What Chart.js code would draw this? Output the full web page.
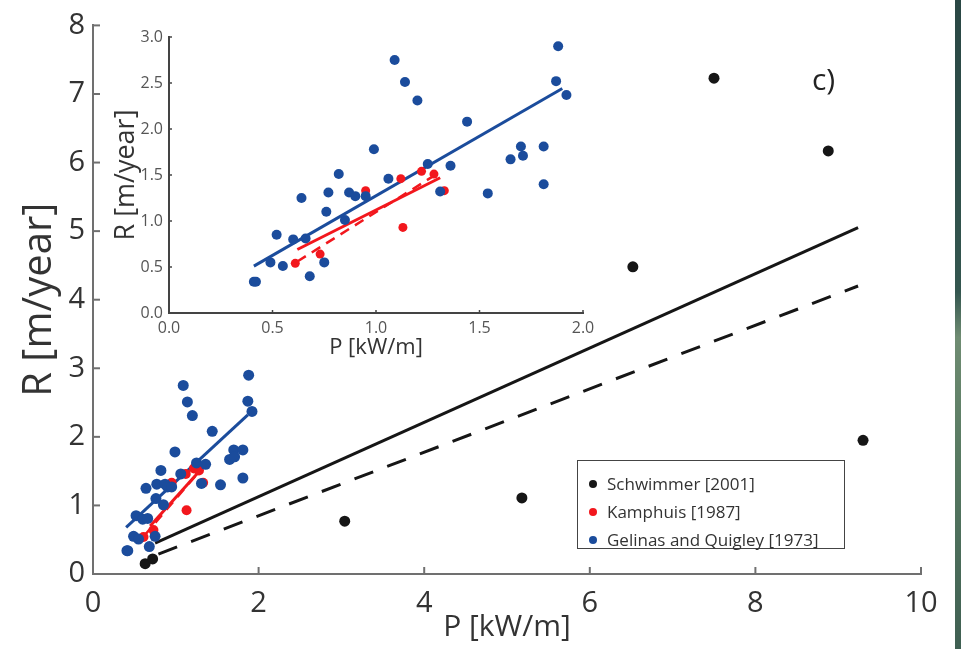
<!DOCTYPE html>
<html>
<head>
<meta charset="utf-8">
<script src="https://cdn.jsdelivr.net/npm/chart.js@4.4.1/dist/chart.umd.min.js"></script>
<style>
  body { margin: 0; background: #fff; }
  #wrap { position: relative; width: 961px; height: 649px; overflow: hidden; background: #fff; font-family: 'Open Sans', sans-serif; }
  #main { position: absolute; left: 0; top: 0; }
  #inset { position: absolute; left: 100px; top: 20px; }
  #edge { position: absolute; left: 955px; top: 0; width: 6px; height: 649px;
          background: linear-gradient(#2a4744, #34564f 45%, #6f8c72 52%, #587a62 70%, #3f5f52); }
  #tag { position: absolute; left: 812px; top: 58px; font-size: 30px; color: #222; }
  #legend { position: absolute; left: 577px; top: 460px; width: 266px; height: 87px;
            border: 1.5px solid #444; background: #fff; }
  .row { position: absolute; left: 0; height: 28px; line-height: 28px; font-size: 17px; color: #333; white-space: nowrap; }
  .dot { position: absolute; left: 11px; top: 10px; width: 8px; height: 8px; border-radius: 50%; }
  .txt { position: absolute; left: 29px; top: 0; }
</style>
</head>
<body>
<div id="wrap">
  <canvas id="main" width="961" height="649"></canvas>
  <canvas id="inset" width="510" height="345"></canvas>
  <div id="tag">c)</div>
  <div id="legend"></div>
  <div id="edge"></div>
</div>
<script>
// Schwimmer [2001]
var schP = [0.63, 0.72, 3.04, 5.18, 6.52, 7.50, 8.88, 9.30];
var schR = [0.15, 0.22, 0.77, 1.11, 4.48, 7.23, 6.17, 1.95];

// Kamphuis [1987]
var kamP = [0.61, 0.73, 0.95, 1.12, 1.13, 1.22, 1.28, 1.33];
var kamR = [0.54, 0.64, 1.33, 1.46, 0.93, 1.54, 1.51, 1.33];

// Gelinas and Quigley [1973]
var gqP = [0.41, 0.42, 0.49, 0.52, 0.55, 0.60, 0.64, 0.66, 0.68, 0.75, 0.76, 0.77, 0.82, 0.85, 0.87,
           0.90, 0.95, 0.99, 1.06, 1.09, 1.14, 1.20, 1.25, 1.31, 1.36, 1.44, 1.54, 1.65, 1.70, 1.71,
           1.81, 1.81, 1.87, 1.88, 1.92];
var gqR = [0.34, 0.34, 0.55, 0.85, 0.51, 0.80, 1.25, 0.81, 0.40, 0.55, 1.10, 1.31, 1.51, 1.01, 1.31,
           1.27, 1.27, 1.78, 1.46, 2.75, 2.51, 2.31, 1.62, 1.32, 1.60, 2.08, 1.30, 1.67, 1.81, 1.71,
           1.81, 1.40, 2.52, 2.90, 2.37];

// fit lines, main panel
var schFitP = [0.75, 9.24], schFitR = [0.45, 5.05];
var schFit2P = [0.79, 9.24], schFit2R = [0.29, 4.20];
var kamFitMainP = [0.69, 1.30], kamFitMainR = [0.70, 1.52];
var gqFitMainP = [0.40, 1.87], gqFitMainR = [0.68, 2.32];

// fit lines, inset
var gqFitP = [0.41, 1.90], gqFitR = [0.51, 2.44];
var kamFitP = [0.62, 1.31], kamFitR = [0.69, 1.47];
var kamFit2P = [0.62, 1.30], kamFit2R = [0.56, 1.52];

var mainXTicks = [0, 2, 4, 6, 8, 10];
var mainYTicks = [0, 1, 2, 3, 4, 5, 6, 7, 8];

var BLUE = '#1b4c9c', RED = '#f2171d', BLACK = '#161616';
var FONT = "'Open Sans', sans-serif";

function pts(xs, ys) {
  return xs.map(function(x, i) { return { x: x, y: ys[i] }; });
}

function scatterSet(label, xs, ys, color, r) {
  return { label: label, data: pts(xs, ys), backgroundColor: color, borderColor: color,
           borderWidth: 0, pointRadius: r, showLine: false };
}

function lineSet(xs, ys, color, w, dash) {
  return { label: '', data: pts(xs, ys), borderColor: color, backgroundColor: color,
           borderWidth: w, borderDash: dash || [], pointRadius: 0, showLine: true, isFit: true };
}

// inward tick marks, drawn from each scale's own ticks
var inwardTicks = {
  id: 'inwardTicks',
  beforeDatasetsDraw: function(chart, args, opts) {
    var ctx = chart.ctx, a = chart.chartArea;
    var xs = chart.scales.x, ys = chart.scales.y;
    ctx.save();
    ctx.strokeStyle = opts.color;
    ctx.lineWidth = opts.width;
    xs.ticks.forEach(function(t) {
      var px = xs.getPixelForValue(t.value);
      ctx.beginPath(); ctx.moveTo(px, a.bottom); ctx.lineTo(px, a.bottom - opts.len); ctx.stroke();
    });
    ys.ticks.forEach(function(t) {
      var py = ys.getPixelForValue(t.value);
      ctx.beginPath(); ctx.moveTo(a.left, py); ctx.lineTo(a.left + opts.len, py); ctx.stroke();
    });
    ctx.restore();
  }
};

var mainChart = new Chart(document.getElementById('main').getContext('2d'), {
  type: 'scatter',
  data: {
    datasets: [
      scatterSet('Gelinas and Quigley [1973]', gqP, gqR, BLUE, 5.5),
      scatterSet('Kamphuis [1987]', kamP, kamR, RED, 5),
      scatterSet('Schwimmer [2001]', schP, schR, BLACK, 5.5),
      lineSet(gqFitMainP, gqFitMainR, BLUE, 3),
      lineSet(kamFitMainP, kamFitMainR, RED, 3),
      lineSet(kamFit2P, kamFit2R, RED, 2.5, [10, 7]),
      lineSet(schFitP, schFitR, BLACK, 3),
      lineSet(schFit2P, schFit2R, BLACK, 3, [20, 15])
    ]
  },
  plugins: [inwardTicks],
  options: {
    responsive: false,
    animation: false,
    layout: { padding: { top: 24, right: 40, left: 0, bottom: 0 } },
    plugins: {
      legend: { display: false },
      tooltip: { enabled: false },
      inwardTicks: { color: '#707070', width: 2, len: 7 }
    },
    scales: {
      x: {
        type: 'linear', min: 0, max: 10,
        afterBuildTicks: function(s) { s.ticks = mainXTicks.map(function(v) { return { value: v }; }); },
        afterFit: function(s) { s.height = 75; },
        grid: { display: true, drawOnChartArea: false, drawTicks: false },
        border: { display: true, color: '#707070', width: 2 },
        ticks: { color: '#333', padding: 12, font: { family: FONT, size: 29 } },
        title: { display: true, text: 'P [kW/m]', color: '#333', padding: { top: 0, bottom: 4 },
                 font: { family: FONT, size: 30 } }
      },
      y: {
        type: 'linear', min: 0, max: 8,
        afterBuildTicks: function(s) { s.ticks = mainYTicks.map(function(v) { return { value: v }; }); },
        afterFit: function(s) { s.width = 93; },
        grid: { display: true, drawOnChartArea: false, drawTicks: false },
        border: { display: true, color: '#707070', width: 2 },
        ticks: { color: '#333', padding: 8, font: { family: FONT, size: 29 } },
        title: { display: true, text: 'R [m/year]', color: '#333', padding: { top: 16, bottom: 0 },
                 font: { family: FONT, size: 40 } }
      }
    }
  }
});

new Chart(document.getElementById('inset').getContext('2d'), {
  type: 'scatter',
  data: {
    datasets: [
      scatterSet('Gelinas and Quigley [1973]', gqP, gqR, BLUE, 5),
      scatterSet('Kamphuis [1987]', kamP, kamR, RED, 4.5),
      lineSet(gqFitP, gqFitR, BLUE, 3),
      lineSet(kamFitP, kamFitR, RED, 3),
      lineSet(kamFit2P, kamFit2R, RED, 2.5, [10, 7])
    ]
  },
  plugins: [inwardTicks],
  options: {
    responsive: false,
    animation: false,
    layout: { padding: { top: 17, right: 27, left: 0, bottom: 0 } },
    plugins: {
      legend: { display: false },
      tooltip: { enabled: false },
      inwardTicks: { color: '#444', width: 1.5, len: 3 }
    },
    scales: {
      x: {
        type: 'linear', min: 0, max: 2,
        ticks: { stepSize: 0.5, color: '#555', padding: 6, font: { family: FONT, size: 16 },
                 callback: function(v) { return v.toFixed(1); } },
        afterFit: function(s) { s.height = 52; },
        grid: { display: true, drawOnChartArea: false, drawTicks: false },
        border: { display: true, color: '#444', width: 2 },
        title: { display: true, text: 'P [kW/m]', color: '#333', padding: { top: 0, bottom: 4 },
                 font: { family: FONT, size: 22 } }
      },
      y: {
        type: 'linear', min: 0, max: 3,
        ticks: { stepSize: 0.5, color: '#555', padding: 6, font: { family: FONT, size: 16 },
                 callback: function(v) { return v.toFixed(1); } },
        afterFit: function(s) { s.width = 69; },
        grid: { display: true, drawOnChartArea: false, drawTicks: false },
        border: { display: true, color: '#444', width: 2 },
        title: { display: true, text: 'R [m/year]', color: '#333', padding: { top: 10, bottom: 0 },
                 font: { family: FONT, size: 27 } }
      }
    }
  }
});

// HTML legend built from the main chart's point datasets
var legend = document.getElementById('legend');
mainChart.data.datasets.filter(function(d) { return !d.isFit; }).reverse().forEach(function(d, i) {
  var row = document.createElement('div');
  row.className = 'row';
  row.style.top = (9 + i * 28) + 'px';
  row.innerHTML = '<span class="dot" style="background:' + d.backgroundColor + '"></span><span class="txt"></span>';
  row.querySelector('.txt').textContent = d.label;
  legend.appendChild(row);
});
</script>
</body>
</html>
